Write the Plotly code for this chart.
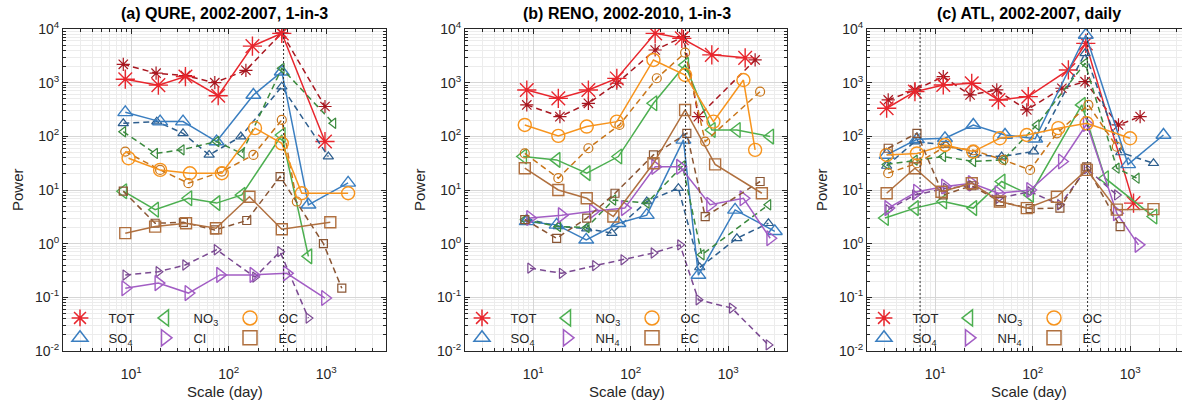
import math
import plotly.graph_objects as go

# ---------------- data: panel (a) QURE ----------------
a_TOT_s_x = [8.7, 19, 36, 78, 175, 350, 970]
a_TOT_s_y = [1160, 900, 1300, 570, 4800, 8300, 80]
a_TOT_d_x = [8.3, 18, 36, 72, 150, 350, 970]
a_TOT_d_y = [2200, 1500, 1350, 1000, 1700, 8500, 360]
a_SO4_s_x = [8.7, 19.8, 34, 75, 179, 350, 656, 1675]
a_SO4_s_y = [280, 188, 188, 80, 590, 1600, 5.3, 13.6]
a_SO4_d_x = [8.3, 18.3, 34, 63, 133, 350, 1050]
a_SO4_d_y = [175, 188, 114, 45, 99, 843, 42]
a_NO3_s_x = [8.3, 17.6, 38.6, 75, 136, 350, 656]
a_NO3_s_y = [9.5, 4.3, 7.0, 5.7, 8.1, 106, 0.58]
a_NO3_d_x = [8.3, 17.6, 33, 75, 136, 350, 1183]
a_NO3_d_y = [122, 48, 56, 80, 48, 1850, 175]
a_X_s_x = [8.7, 19, 38.6, 81.5, 179, 394, 970]
a_X_s_y = [0.148, 0.184, 0.12, 0.262, 0.262, 0.28, 0.097]
a_X_d_x = [8.7, 19, 35.7, 75, 186, 336, 656]
a_X_d_y = [0.26, 0.30, 0.40, 0.77, 0.238, 0.71, 0.041]
a_OC_s_x = [9.4, 19.8, 40, 85, 186, 350, 561, 1675]
a_OC_s_y = [39, 23.7, 20.5, 20.5, 142, 74, 8.7, 8.7]
a_OC_d_x = [8.7, 19.8, 38.6, 85, 179, 350, 499]
a_OC_d_y = [52, 23.7, 13.4, 22, 45, 202, 6.1]
a_EC_s_x = [8.7, 17.6, 36.5, 74, 163, 350, 1100]
a_EC_s_y = [1.57, 2.08, 2.4, 1.94, 7.5, 1.86, 2.5]
a_EC_d_x = [8.3, 17.6, 34.3, 72, 153, 336, 935, 1443]
a_EC_d_y = [9.5, 2.4, 2.5, 1.8, 2.7, 17.8, 1.0, 0.148]

# ---------------- data: panel (b) RENO ----------------
b_TOT_s_x = [8.6, 18.1, 36.8, 72, 178, 334, 678, 1490]
b_TOT_s_y = [730, 510, 730, 1200, 8300, 6700, 3300, 2900]
b_TOT_d_x = [8.6, 18.8, 36.8, 72, 178, 347, 494, 1885]
b_TOT_d_y = [385, 233, 413, 975, 4060, 7200, 233, 2650]
b_SO4_s_x = [8.6, 17.4, 35, 74.7, 146, 347, 494, 1175, 3000]
b_SO4_s_y = [2.6, 2.24, 1.18, 2.4, 3.4, 86, 0.26, 4.26, 1.7]
b_SO4_d_x = [8.6, 18.1, 35.4, 64, 146, 308, 510, 1225, 2580]
b_SO4_d_y = [2.9, 2.1, 1.9, 1.57, 6.1, 10.8, 0.36, 1.26, 2.4]
b_NO3_s_x = [7.9, 17.4, 35.4, 74.7, 171, 361, 678, 1225, 2690]
b_NO3_s_y = [42, 36.4, 20.6, 42, 413, 2140, 131, 131, 99]
b_NO3_d_x = [8.2, 18.1, 35.4, 66.4, 146, 340, 535, 2580]
b_NO3_d_y = [2.8, 2.08, 2.0, 6.5, 5.7, 28, 0.62, 5.3]
b_X_s_x = [9.3, 19.6, 41, 87, 178, 320, 651, 1430, 2690]
b_X_s_y = [3.0, 3.4, 4.0, 4.6, 27, 27, 5.3, 7.0, 1.26]
b_X_d_x = [9.3, 19.6, 43, 84, 171, 320, 494, 1086, 2580]
b_X_d_y = [0.35, 0.28, 0.39, 0.5, 0.67, 0.95, 0.09, 0.063, 0.013]
b_OC_s_x = [8.2, 18.1, 35.4, 72, 171, 361, 705, 1430, 1885]
b_OC_s_y = [163, 102, 152, 188, 2650, 1390, 188, 1120, 56]
b_OC_d_x = [8.2, 18.1, 36.8, 76.6, 185, 361, 580, 2120]
b_OC_d_y = [48, 16.6, 60, 163, 1208, 3620, 80, 680]
b_EC_s_x = [8.2, 18.1, 35.4, 66.4, 171, 361, 733, 2210]
b_EC_s_y = [25.5, 10, 7.0, 3.2, 31.5, 310, 30, 8.7]
b_EC_d_x = [8.2, 17.4, 35.4, 69, 171, 376, 580, 2120]
b_EC_d_y = [2.8, 1.26, 3.0, 8.7, 45, 114, 3.2, 14.4]

# ---------------- data: panel (c) ATL ----------------
c_TOT_s_x = [3.18, 6.2, 12.1, 23.7, 44.5, 90, 232, 350, 1080]
c_TOT_s_y = [334, 680, 906, 975, 476, 550, 1725, 5400, 5.7]
c_TOT_d_x = [3.3, 6.2, 12.1, 22.8, 42.8, 87, 199, 344, 757, 1262]
c_TOT_d_y = [476, 731, 1294, 590, 731, 310, 787, 1045, 163, 233]
c_SO4_s_x = [3.18, 6.5, 12.6, 24.6, 52, 106, 350, 950, 2190]
c_SO4_s_y = [45, 88, 92, 163, 106, 90, 7730, 30, 106]
c_SO4_d_x = [3.18, 6.2, 12.9, 25, 48, 102, 344, 800, 1730]
c_SO4_d_y = [28, 80, 69, 45, 42, 52, 3520, 50, 31.5]
c_NO3_s_x = [3.06, 6.2, 12.1, 24.6, 48, 94, 319, 552, 1730]
c_NO3_s_y = [3.0, 4.6, 6.1, 4.6, 14.4, 8.1, 385, 16.6, 3.2]
c_NO3_d_x = [3.18, 6.2, 12.1, 24.6, 50, 110, 344, 728, 1167]
c_NO3_d_y = [30, 36, 42, 34, 36.4, 163, 2300, 25.5, 16.6]
c_X_s_x = [3.3, 6.5, 12.6, 23.7, 44.5, 94, 199, 358, 728, 1213]
c_X_s_y = [4.6, 9.3, 11.6, 13.4, 8.7, 10, 34, 170, 3.7, 0.95]
c_X_d_x = [3.3, 6.2, 12.9, 23.7, 44.5, 94, 190, 358, 728]
c_X_d_y = [4.3, 8.1, 10.8, 12, 7, 9.3, 5.3, 25, 8.1]
c_OC_s_x = [3.18, 6.5, 12.6, 24.6, 46, 87, 183, 358, 995]
c_OC_s_y = [45, 48, 69, 52, 92, 106, 142, 175, 92]
c_OC_d_x = [3.3, 6.5, 12.6, 24.6, 50, 94, 177, 372, 728]
c_OC_d_y = [20.6, 31.5, 64, 55, 36.4, 23.7, 114, 385, 64]
c_EC_s_x = [3.18, 6.2, 11.6, 23.7, 46, 87, 177, 358, 728, 1730]
c_EC_s_y = [8.7, 25.5, 9.3, 13.4, 6.1, 4.6, 7.5, 23.7, 4.3, 4.4]
c_EC_d_x = [3.3, 6.5, 12.1, 23.7, 46, 94, 190, 358, 787]
c_EC_d_y = [60, 114, 8.1, 12, 6.1, 4.5, 4.6, 27, 2.08]

panel_titles = ["(a) QURE, 2002-2007, 1-in-3",
                "(b) RENO, 2002-2010, 1-in-3",
                "(c) ATL, 2002-2007, daily"]
x_names = ["Cl", "NH<sub>4</sub>", "NH<sub>4</sub>"]
species = ["TOT", "SO4", "NO3", "X", "OC", "EC"]
species_label = {"TOT": "TOT", "SO4": "SO<sub>4</sub>", "NO3": "NO<sub>3</sub>",
                 "OC": "OC", "EC": "EC"}
ref_lines = [[365], [365], [7, 365]]
x_ticks = [10, 100, 1000]
x_ticktext = ["10<sup>1</sup>", "10<sup>2</sup>", "10<sup>3</sup>"]
y_ticks = [1e-2, 1e-1, 1e0, 1e1, 1e2, 1e3, 1e4]
y_ticktext = ["10<sup>-2</sup>", "10<sup>-1</sup>", "10<sup>0</sup>", "10<sup>1</sup>",
              "10<sup>2</sup>", "10<sup>3</sup>", "10<sup>4</sup>"]

# ---------------- styling ----------------
W, H = 1182, 405
FONT = "Liberation Sans, Arial, Helvetica, sans-serif"
TXT = "#262626"
col_s = {"TOT": "#E8262D", "SO4": "#3A7EC0", "NO3": "#4CAF50", "X": "#A25DC4",
         "OC": "#F7941D", "EC": "#B0703F"}
col_d = {"TOT": "#A8161F", "SO4": "#2D5E8E", "NO3": "#3B8A3E", "X": "#7B4A92",
         "OC": "#C9761A", "EC": "#8A5634"}
symbols = {"TOT": "asterisk-open", "SO4": "triangle-up-open", "NO3": "triangle-left-open",
           "X": "triangle-right-open", "OC": "circle-open", "EC": "square-open"}
size_s = {"TOT": 16, "SO4": 13, "NO3": 13, "X": 13, "OC": 13, "EC": 11}
size_d = {"TOT": 11, "SO4": 9, "NO3": 9, "X": 9, "OC": 9, "EC": 8}
groups = {"TOT": "g1", "SO4": "g1", "NO3": "g2", "X": "g2", "OC": "g3", "EC": "g3"}
PAD = "\u00a0"

data = {}
for p in "abc":
    for sp in species:
        for st in "sd":
            data[(p, sp, st)] = (globals()[f"{p}_{sp}_{st}_x"], globals()[f"{p}_{sp}_{st}_y"])

# pixel geometry of the panels
left_px = [63, 465, 867]
width_px = [323, 322, 315]
top_px, bot_px = 29, 351
lx0, lx1 = math.log10(2), math.log10(4096)
px_per_dec = 323 / (lx1 - lx0)

fig = go.Figure()
legend_ids = ["legend", "legend2", "legend3"]

for i, p in enumerate("abc"):
    xa = "x" if i == 0 else f"x{i+1}"
    ya = "y" if i == 0 else f"y{i+1}"
    for sp in species:
        for st in "ds":
            xs, ys = data[(p, sp, st)]
            c = col_s[sp] if st == "s" else col_d[sp]
            fig.add_trace(go.Scatter(
                x=xs, y=ys, xaxis=xa, yaxis=ya, mode="lines+markers",
                line=dict(color=c, width=1.5, dash="solid" if st == "s" else "6px,4px"),
                marker=dict(symbol=symbols[sp], size=size_s[sp] if st == "s" else size_d[sp],
                            color=c, line=dict(color=c, width=1.4 if st == "s" else 1.2)),
                showlegend=False, hoverinfo="skip"))
    # legend entries
    for sp in species:
        name = x_names[i] if sp == "X" else species_label[sp]
        fig.add_trace(go.Scatter(
            x=[None], y=[None], xaxis=xa, yaxis=ya, mode="markers", name=PAD + name,
            marker=dict(symbol=symbols[sp], size=14, color=col_s[sp],
                        line=dict(color=col_s[sp], width=1.5)),
            legendgroup=f"{p}{groups[sp]}", legend=legend_ids[i], showlegend=True))

minor_x = [m * 10 ** k for k in range(0, 4) for m in range(2, 10) if m * 10 ** k <= 4096]
minor_y = [m * 10 ** k for k in range(-2, 4) for m in range(2, 10)]

layout = dict(width=W, height=H, margin=dict(l=0, r=0, t=0, b=0, autoexpand=False),
              paper_bgcolor="white", plot_bgcolor="white",
              font=dict(family=FONT, color=TXT, size=14))
annotations = []
shapes = []
for i in range(3):
    xk = "xaxis" if i == 0 else f"xaxis{i+1}"
    yk = "yaxis" if i == 0 else f"yaxis{i+1}"
    x0 = left_px[i] / W
    x1 = (left_px[i] + width_px[i]) / W
    xr1 = lx0 + width_px[i] / px_per_dec
    common = dict(showline=True, linecolor=TXT, linewidth=1, ticks="inside", ticklen=5,
                  tickcolor=TXT, tickfont=dict(size=14, color=TXT, family=FONT),
                  showgrid=True, gridcolor="#d6d6d6", gridwidth=1, zeroline=False,
                  tickmode="array", automargin=False)
    layout[xk] = dict(common, type="log", domain=[x0, min(x1, 1.0)], range=[lx0, xr1],
                      anchor="y" if i == 0 else f"y{i+1}", mirror="allticks",
                      tickvals=x_ticks, ticktext=x_ticktext, ticklabelstandoff=10,
                      minor=dict(tickmode="array", tickvals=minor_x, ticks="inside", ticklen=3,
                                 tickcolor=TXT, showgrid=True, gridcolor="#ececec", gridwidth=1))
    layout[yk] = dict(common, type="log", domain=[1 - bot_px / H, 1 - top_px / H], range=[-2, 4],
                      anchor="x" if i == 0 else f"x{i+1}",
                      mirror="allticks" if i < 2 else False,
                      tickvals=y_ticks, ticktext=y_ticktext,
                      minor=dict(tickmode="array", tickvals=minor_y, ticks="inside", ticklen=3,
                                 tickcolor=TXT, showgrid=True, gridcolor="#ececec", gridwidth=1))
    cx = (left_px[i] + 323 / 2) / W
    annotations.append(dict(text=f"<b>{panel_titles[i]}</b>", x=cx, y=1 - 13 / H, xref="paper",
                            yref="paper", showarrow=False, xanchor="center", yanchor="middle",
                            font=dict(size=16, color="black", family=FONT)))
    annotations.append(dict(text="Scale (day)", x=cx, y=1 - 391 / H, xref="paper", yref="paper",
                            showarrow=False, xanchor="center", yanchor="middle",
                            font=dict(size=15, color=TXT, family=FONT)))
    annotations.append(dict(text="Power", x=(left_px[i] - 46) / W, y=1 - 190 / H, xref="paper",
                            yref="paper", showarrow=False, textangle=-90, xanchor="center",
                            yanchor="middle", font=dict(size=15, color=TXT, family=FONT)))
    xref = "x" if i == 0 else f"x{i+1}"
    yref = "y domain" if i == 0 else f"y{i+1} domain"
    for xv in ref_lines[i]:
        shapes.append(dict(type="line", xref=xref, yref=yref, x0=xv, x1=xv, y0=0, y1=1,
                           line=dict(color="#333333", width=1, dash="2px,2px"), layer="above"))
    layout[legend_ids[i]] = dict(orientation="h", traceorder="grouped", tracegroupgap=0,
                                 x=(left_px[i] - 8) / W, xanchor="left",
                                 y=1 - 303 / H, yanchor="top", bgcolor="rgba(0,0,0,0)",
                                 itemwidth=40, entrywidth=30,
                                 font=dict(size=13, color=TXT, family=FONT))

layout["annotations"] = annotations
layout["shapes"] = shapes
fig.update_layout(**layout)
fig.write_html("out.html")
